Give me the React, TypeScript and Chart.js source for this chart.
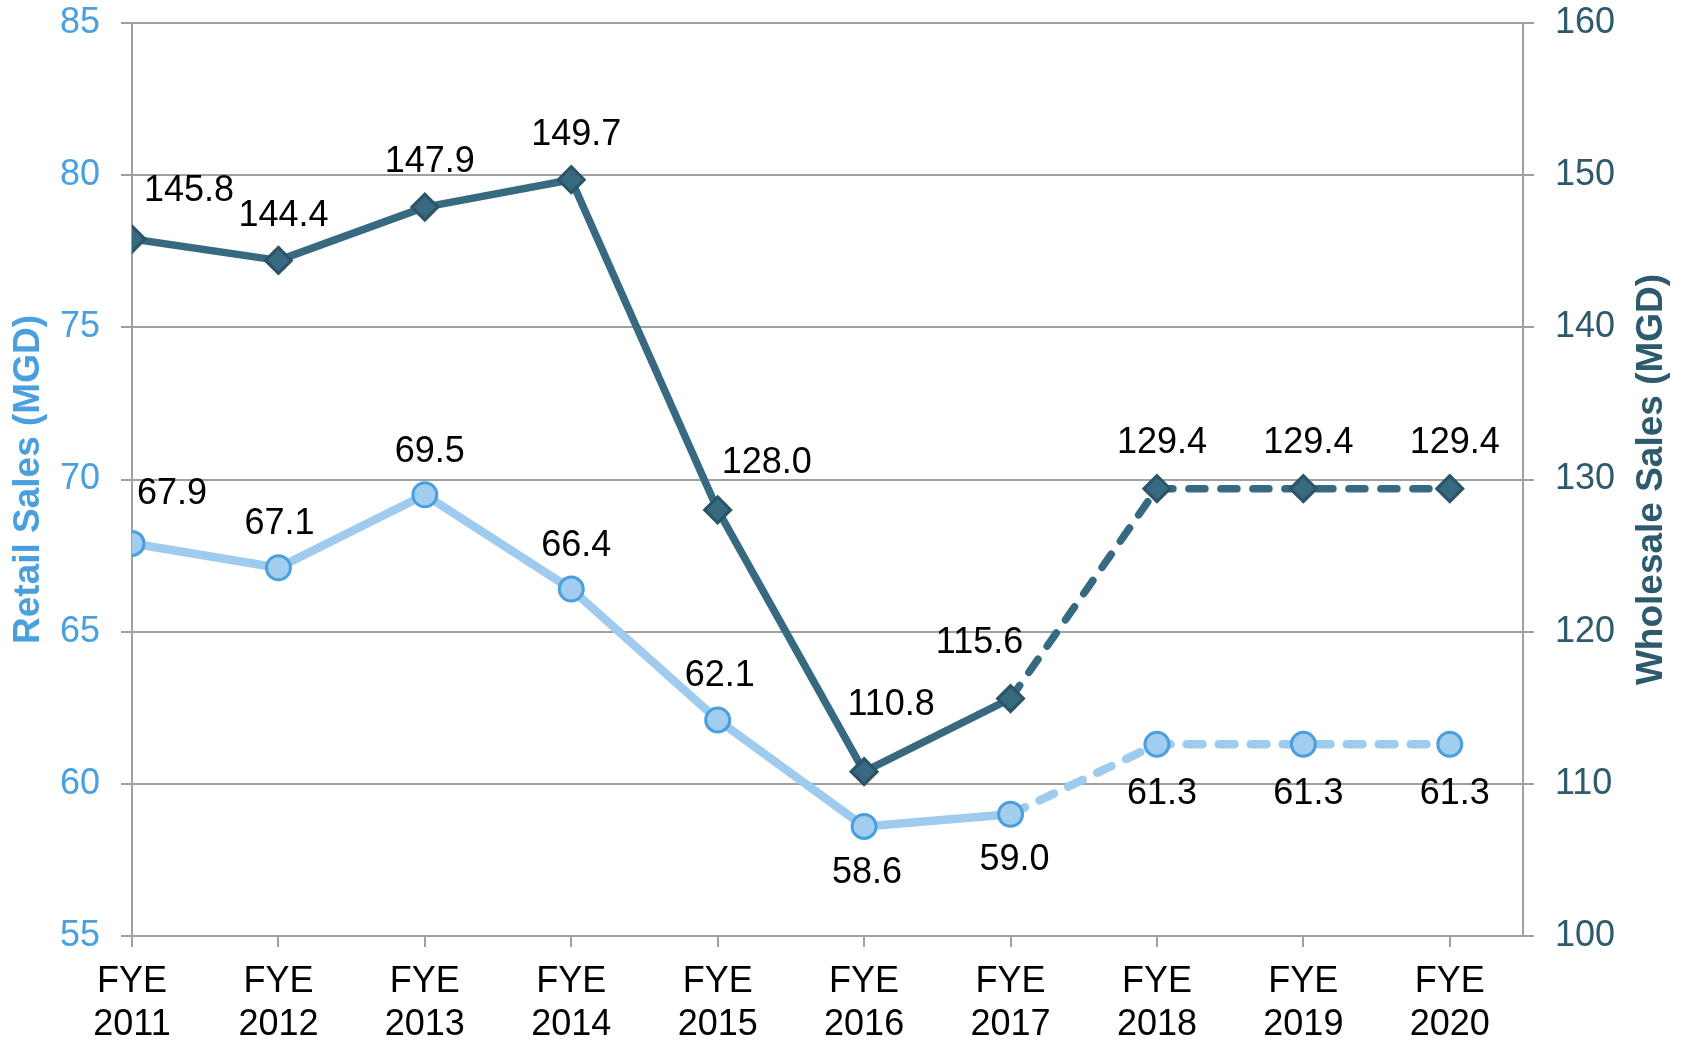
import { useEffect, useRef } from 'react';
import { Chart, registerables } from 'chart.js';

Chart.register(...registerables);

const categories = ['FYE 2011', 'FYE 2012', 'FYE 2013', 'FYE 2014', 'FYE 2015', 'FYE 2016', 'FYE 2017', 'FYE 2018', 'FYE 2019', 'FYE 2020'];
const wholesaleSales = [145.8, 144.4, 147.9, 149.7, 128.0, 110.8, 115.6, 129.4, 129.4, 129.4];
const retailSales = [67.9, 67.1, 69.5, 66.4, 62.1, 58.6, 59.0, 61.3, 61.3, 61.3];
const retailAxis = { min: 55, max: 85, step: 5 };
const wholesaleAxis = { min: 100, max: 160, step: 10 };
const forecastStartIndex = 6; // dashed from FYE 2017 onwards

// label placement (pixel offsets from the point), styling only
const wholesaleLabelOffsets = [[57, -48], [5, -44], [5, -45], [5, -45], [49, -47], [27, -67], [-31, -56], [5, -46], [5, -46], [5, -46]];
const retailLabelOffsets = [[40, -49], [1, -44], [5, -43], [5, -43], [2, -44], [3, 47], [4, 46], [5, 50], [5, 50], [5, 50]];

const FONT = '"Liberation Sans", Arial, Helvetica, sans-serif';
const RETAIL_COLOR = '#4aa0df';
const WHOLESALE_COLOR = '#2d5a6c';
const GRID = '#a0a0a0';

const valueLabels = {
  id: 'valueLabels',
  afterDatasetsDraw(chart: any) {
    const ctx = chart.ctx;
    ctx.save();
    ctx.font = `36px ${FONT}`;
    ctx.fillStyle = '#000';
    ctx.textAlign = 'center';
    ctx.textBaseline = 'middle';
    chart.data.datasets.forEach((ds: any, di: number) => {
      const meta = chart.getDatasetMeta(di);
      const offs = ds.labelOffsets || [];
      meta.data.forEach((pt: any, i: number) => {
        const v = ds.data[i].y as number;
        const o = offs[i] || [0, -40];
        ctx.fillText(v.toFixed(1), pt.x + o[0], pt.y + o[1]);
      });
    });
    ctx.restore();
  },
};

const axisTitles = {
  id: 'axisTitles',
  afterDraw(chart: any) {
    const ctx = chart.ctx;
    const area = chart.chartArea;
    const cy = (area.top + area.bottom) / 2;
    ctx.save();
    ctx.font = `bold 37px ${FONT}`;
    ctx.textAlign = 'center';
    ctx.textBaseline = 'middle';
    const draw = (text: string, x: number, color: string) => {
      ctx.save();
      ctx.translate(x, cy);
      ctx.rotate(-Math.PI / 2);
      ctx.fillStyle = color;
      ctx.fillText(text, 0, 0);
      ctx.restore();
    };
    draw('Retail Sales (MGD)', 29, RETAIL_COLOR);
    draw('Wholesale Sales (MGD)', 1652, WHOLESALE_COLOR);
    ctx.restore();
  },
};

export default function App() {
  const canvasRef = useRef<HTMLCanvasElement | null>(null);

  useEffect(() => {
    if (!canvasRef.current) return;
    const dashed = (ctx: any) => (ctx.p0DataIndex >= forecastStartIndex ? [16, 16] : undefined);

    const chart = new Chart(canvasRef.current, {
      type: 'line',
      data: {
        datasets: [
          {
            label: 'Wholesale Sales',
            data: wholesaleSales.map((v, i) => ({ x: i, y: v })),
            yAxisID: 'y1',
            borderColor: '#376a80',
            borderWidth: 7.5,
            borderCapStyle: 'round',
            borderJoinStyle: 'round',
            pointStyle: 'rectRot',
            pointRadius: 13,
            pointBorderWidth: 3,
            pointBackgroundColor: '#376a80',
            pointBorderColor: '#2b5466',
            tension: 0,
            segment: { borderDash: dashed },
            labelOffsets: wholesaleLabelOffsets,
          } as any,
          {
            label: 'Retail Sales',
            data: retailSales.map((v, i) => ({ x: i, y: v })),
            yAxisID: 'y',
            borderColor: '#9ecbee',
            borderWidth: 8.5,
            borderCapStyle: 'round',
            borderJoinStyle: 'round',
            pointStyle: 'circle',
            pointRadius: 12,
            pointBorderWidth: 3,
            pointBackgroundColor: '#a2cdef',
            pointBorderColor: '#4aa0df',
            tension: 0,
            segment: { borderDash: dashed },
            labelOffsets: retailLabelOffsets,
          } as any,
        ],
      },
      options: {
        responsive: false,
        animation: false,
        layout: { padding: { top: 23, left: 0, right: 0, bottom: 0 } },
        plugins: { legend: { display: false }, tooltip: { enabled: false } },
        scales: {
          x: {
            type: 'linear',
            min: 0,
            max: categories.length - 0.5,
            bounds: 'data',
            ticks: {
              stepSize: 1,
              includeBounds: false,
              autoSkip: false,
              maxRotation: 0,
              color: '#000',
              padding: 13,
              font: { family: FONT, size: 36, lineHeight: 1.2 },
              callback: (v: any) => {
                const n = Number(v);
                return Number.isInteger(n) && categories[n] ? categories[n].split(' ') : '';
              },
            },
            grid: { drawOnChartArea: false, drawTicks: true, tickLength: 11, color: GRID, lineWidth: 2 },
            border: { display: true, color: GRID, width: 2 },
            afterFit: (s: any) => { s.height = 106; s.paddingLeft = 0; s.paddingRight = 0; },
          },
          y: {
            type: 'linear',
            position: 'left',
            min: retailAxis.min,
            max: retailAxis.max,
            ticks: { stepSize: retailAxis.step, color: RETAIL_COLOR, padding: 21, font: { family: FONT, size: 36 } },
            grid: { drawOnChartArea: true, drawTicks: true, tickLength: 11, color: GRID, lineWidth: 2 },
            border: { display: true, color: GRID, width: 2 },
            afterFit: (s: any) => { s.width = 132; s.paddingTop = 0; s.paddingBottom = 0; },
          },
          y1: {
            type: 'linear',
            position: 'right',
            min: wholesaleAxis.min,
            max: wholesaleAxis.max,
            ticks: { stepSize: wholesaleAxis.step, color: WHOLESALE_COLOR, padding: 21, font: { family: FONT, size: 36 } },
            grid: { drawOnChartArea: false, drawTicks: true, tickLength: 11, color: GRID, lineWidth: 2 },
            border: { display: true, color: GRID, width: 2 },
            afterFit: (s: any) => { s.width = 160; s.paddingTop = 0; s.paddingBottom = 0; },
          },
        },
      } as any,
      plugins: [valueLabels, axisTitles],
    });
    return () => chart.destroy();
  }, []);

  return (
    <div style={{ position: 'absolute', left: 0, top: 0, width: 1683, height: 1042, background: '#fff' }}>
      <canvas ref={canvasRef} width={1683} height={1042} style={{ display: 'block' }} />
    </div>
  );
}
